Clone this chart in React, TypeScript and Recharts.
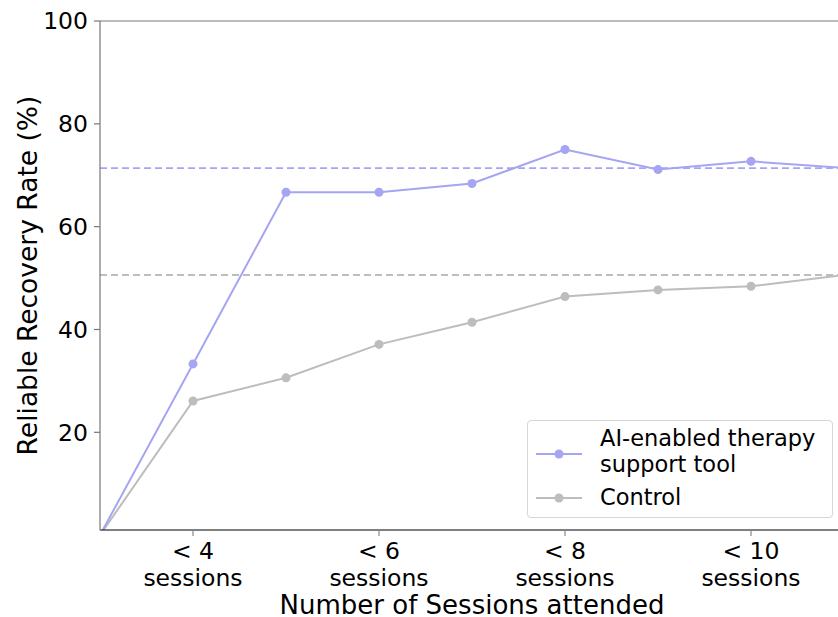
import React from "react";
import { LineChart, Line, XAxis, YAxis, ReferenceLine, Legend } from "recharts";

const sessions = [3, 4, 5, 6, 7, 8, 9, 10, 11];
const aiTool = [0, 33.3, 66.7, 66.7, 68.4, 75.0, 71.1, 72.7, 71.4];
const control = [0, 26.1, 30.6, 37.1, 41.4, 46.4, 47.7, 48.4, 50.6];
const aiMean = 71.4;
const controlMean = 50.6;
const xTicks = [4, 6, 8, 10];
const xTickLabels = ["< 4", "< 6", "< 8", "< 10"];
const yTicks = [20, 40, 60, 80, 100];
const seriesNames = ["AI-enabled therapy\nsupport tool", "Control"];

const AI_COLOR = "#a5a5f3";
const CTRL_COLOR = "#bdbdbd";
const FONT = "DejaVu Sans";

const data = sessions.map((s, i) => ({ x: s, ai: aiTool[i], ctrl: control[i] }));

const XTick = (props: any) => {
  const { x, y, payload } = props;
  const idx = xTicks.indexOf(payload.value);
  const label = idx >= 0 ? xTickLabels[idx] : String(payload.value);
  return (
    <g>
      <text x={x} y={y + 21} textAnchor="middle" fontSize={23.5} fontFamily={FONT} fill="#000">
        {label}
      </text>
      <text x={x} y={y + 48} textAnchor="middle" fontSize={23.5} fontFamily={FONT} fill="#000">
        sessions
      </text>
    </g>
  );
};

const LegendBox = () => {
  const items = [
    { name: seriesNames[0], color: AI_COLOR },
    { name: seriesNames[1], color: CTRL_COLOR },
  ];
  return (
    <div
      style={{
        width: 306,
        height: 98,
        border: "1px solid #d6d6d6",
        borderRadius: 4,
        background: "rgba(255,255,255,0.85)",
        fontFamily: FONT,
        fontSize: 22.5,
        boxSizing: "border-box",
        position: "relative",
      }}
    >
      {items.map((it, i) => {
        const lines = it.name.split("\n");
        const top = i === 0 ? 4 : 63;
        const midY = i === 0 ? 33 : 77;
        return (
          <React.Fragment key={i}>
            <svg style={{ position: "absolute", left: 6, top: midY - 8 }} width={50} height={16}>
              <line x1={2} y1={8} x2={48} y2={8} stroke={it.color} strokeWidth={2} />
              <circle cx={25} cy={8} r={4.5} fill={it.color} />
            </svg>
            <div style={{ position: "absolute", left: 72, top, lineHeight: "26px", whiteSpace: "nowrap" }}>
              {lines.map((l, j) => (
                <div key={j}>{l}</div>
              ))}
            </div>
          </React.Fragment>
        );
      })}
    </div>
  );
};

export default function App() {
  return (
    <div
      style={{
        position: "fixed",
        left: 0,
        top: 0,
        width: 838,
        height: 617,
        overflow: "hidden",
        background: "#fff",
      }}
    >
      <LineChart
        width={870}
        height={617}
        data={data}
        margin={{ top: 21, right: 26, bottom: 0, left: 0 }}
      >
        <XAxis
          dataKey="x"
          type="number"
          domain={[3, 11]}
          ticks={xTicks}
          allowDataOverflow
          height={87}
          stroke="#000"
          axisLine={{ stroke: "#000", strokeWidth: 1.2 }}
          tickLine={{ stroke: "#888", strokeWidth: 1.2 }}
          tickSize={6}
          tick={<XTick />}
          label={{
            value: "Number of Sessions attended",
            position: "insideBottom",
            offset: 3,
            fontSize: 26,
            fontFamily: FONT,
            fill: "#000",
          }}
        />
        <YAxis
          type="number"
          domain={[1, 100]}
          ticks={yTicks}
          allowDataOverflow
          width={100}
          axisLine={{ stroke: "#777", strokeWidth: 1.2 }}
          tickLine={{ stroke: "#777", strokeWidth: 1.2 }}
          tickSize={6}
          tickMargin={6}
          tick={{ fontSize: 23.5, fontFamily: FONT, fill: "#000" }}
          label={{
            content: (p: any) => {
              const vb = p.viewBox || {};
              const cx = 27;
              const cy = (vb.y ?? 21) + (vb.height ?? 509) / 2;
              return (
                <text
                  x={cx}
                  y={cy}
                  transform={`rotate(-90 ${cx} ${cy})`}
                  textAnchor="middle"
                  dominantBaseline="central"
                  fontSize={26.5}
                  fontFamily={FONT}
                  fill="#000"
                >
                  Reliable Recovery Rate (%)
                </text>
              );
            },
          }}
        />
        <ReferenceLine y={100} stroke="#777" strokeWidth={1.2} />
        <ReferenceLine y={aiMean} stroke={AI_COLOR} strokeDasharray="7 4" strokeWidth={1.8} />
        <ReferenceLine y={controlMean} stroke={CTRL_COLOR} strokeDasharray="7 4" strokeWidth={1.8} />
        <Line
          dataKey="ctrl"
          name="Control"
          stroke={CTRL_COLOR}
          strokeWidth={2}
          dot={{ r: 4.5, fill: CTRL_COLOR, stroke: CTRL_COLOR, strokeWidth: 0 }}
          isAnimationActive={false}
        />
        <Line
          dataKey="ai"
          name="AI-enabled therapy support tool"
          stroke={AI_COLOR}
          strokeWidth={2}
          dot={{ r: 4.5, fill: AI_COLOR, stroke: AI_COLOR, strokeWidth: 0 }}
          isAnimationActive={false}
        />
        <Legend
          layout="vertical"
          align="center"
          verticalAlign="middle"
          content={<LegendBox />}
          wrapperStyle={{ position: "absolute", left: 527, top: 420, width: 306, height: 98 }}
        />
      </LineChart>
    </div>
  );
}
